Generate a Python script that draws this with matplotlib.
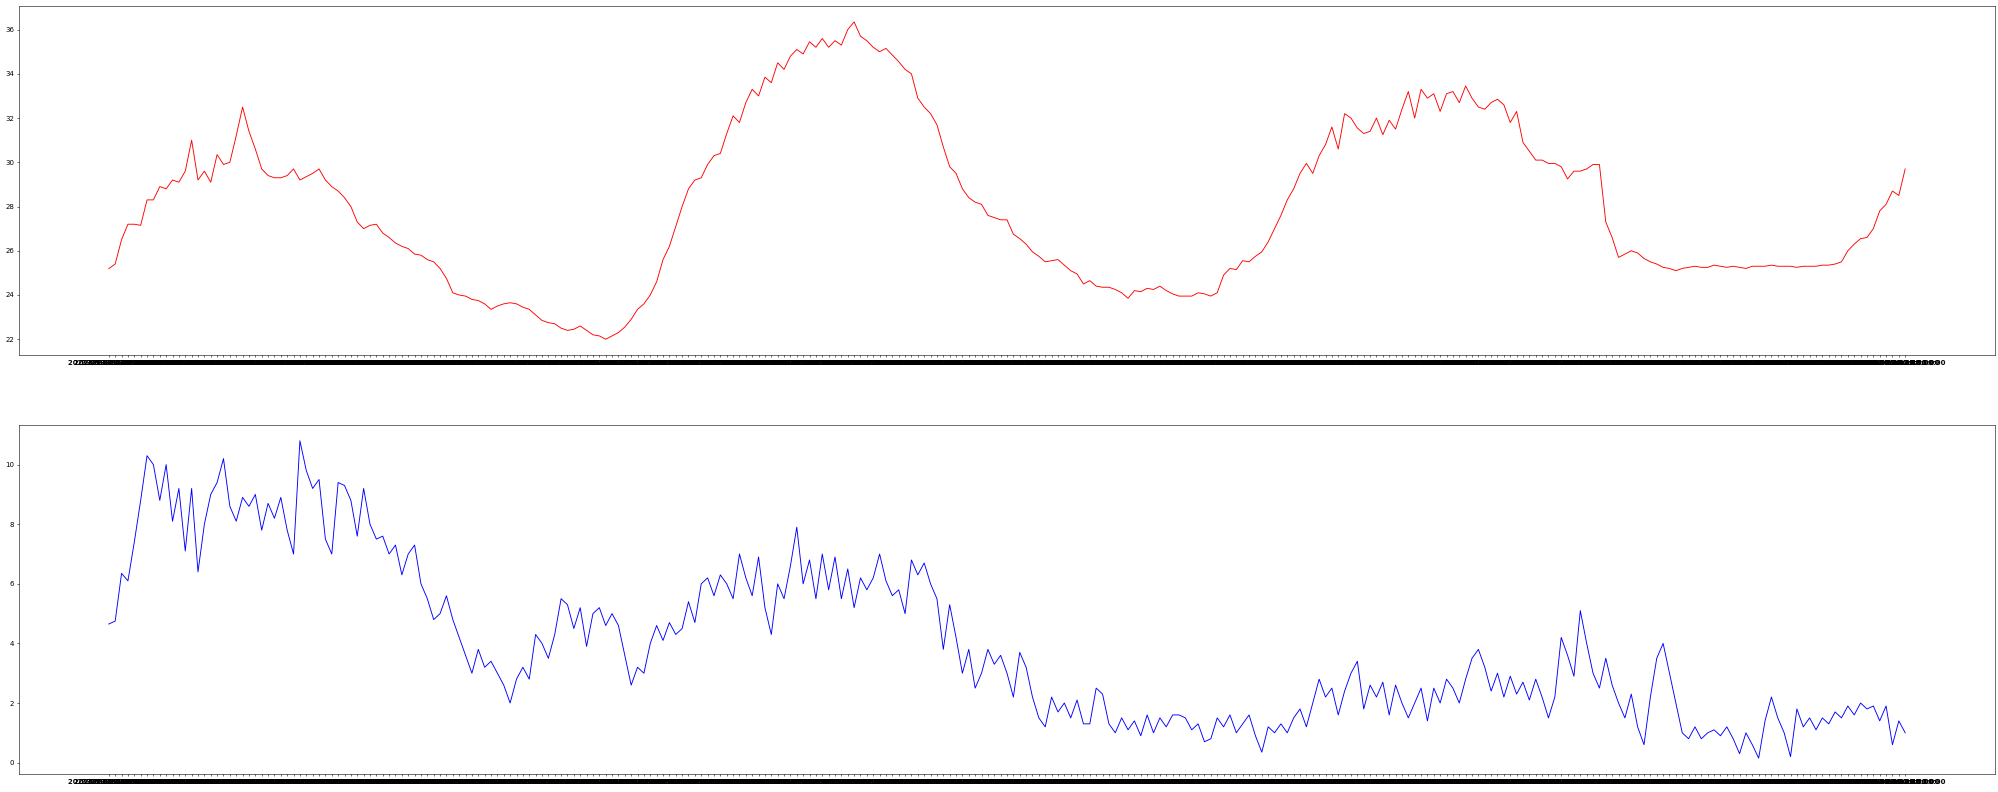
"""
Temperature and wind speed time series, two stacked panels
"""

import pandas as pd
from matplotlib import pyplot as plt

# sample timestamps (string categories on the x axis)
timestamps = pd.date_range("2021-07-01 00:00:00", periods=283, freq="10min").strftime("%Y-%m-%d %H:%M:%S").tolist()

temperature = [
    25.19, 25.4, 26.5, 27.2, 27.2, 27.15, 28.3, 28.3, 28.9, 28.8,
    29.2, 29.1, 29.6, 31.0, 29.2, 29.6, 29.1, 30.35, 29.9, 30.0,
    31.2, 32.5, 31.4, 30.6, 29.7, 29.4, 29.3, 29.3, 29.4, 29.7,
    29.2, 29.35, 29.5, 29.7, 29.2, 28.9, 28.7, 28.4, 28.0, 27.3,
    27.0, 27.15, 27.2, 26.8, 26.6, 26.35, 26.2, 26.1, 25.85, 25.8,
    25.6, 25.5, 25.2, 24.75, 24.1, 24.0, 23.95, 23.8, 23.75, 23.6,
    23.35, 23.5, 23.6, 23.65, 23.6, 23.45, 23.35, 23.1, 22.85, 22.75,
    22.7, 22.5, 22.4, 22.45, 22.6, 22.4, 22.2, 22.15, 22.0, 22.15,
    22.3, 22.55, 22.9, 23.35, 23.6, 24.0, 24.6, 25.6, 26.2, 27.1,
    28.0, 28.8, 29.2, 29.3, 29.9, 30.3, 30.4, 31.3, 32.1, 31.8,
    32.7, 33.3, 33.0, 33.85, 33.6, 34.5, 34.2, 34.8, 35.1, 34.9,
    35.45, 35.2, 35.6, 35.2, 35.5, 35.3, 36.0, 36.35, 35.7, 35.5,
    35.2, 35.0, 35.15, 34.85, 34.55, 34.2, 34.0, 32.9, 32.5, 32.2,
    31.7, 30.7, 29.8, 29.5, 28.8, 28.4, 28.2, 28.1, 27.6, 27.5,
    27.4, 27.4, 26.75, 26.55, 26.3, 25.95, 25.75, 25.5, 25.55, 25.6,
    25.35, 25.1, 24.95, 24.5, 24.65, 24.4, 24.35, 24.35, 24.25, 24.1,
    23.85, 24.2, 24.15, 24.3, 24.25, 24.4, 24.2, 24.05, 23.95, 23.95,
    23.95, 24.1, 24.05, 23.95, 24.1, 24.9, 25.2, 25.15, 25.55, 25.5,
    25.75, 25.95, 26.4, 27.0, 27.6, 28.3, 28.8, 29.5, 29.95, 29.5,
    30.3, 30.8, 31.6, 30.6, 32.2, 32.0, 31.55, 31.3, 31.4, 32.0,
    31.25, 31.9, 31.5, 32.4, 33.2, 32.0, 33.3, 32.9, 33.1, 32.3,
    33.1, 33.2, 32.7, 33.45, 32.9, 32.5, 32.4, 32.7, 32.85, 32.6,
    31.8, 32.3, 30.9, 30.5, 30.1, 30.1, 29.95, 29.95, 29.8, 29.25,
    29.6, 29.6, 29.7, 29.9, 29.9, 27.3, 26.6, 25.7, 25.85, 26.0,
    25.9, 25.65, 25.5, 25.4, 25.25, 25.2, 25.1, 25.2, 25.25, 25.3,
    25.25, 25.25, 25.35, 25.3, 25.25, 25.3, 25.25, 25.2, 25.3, 25.3,
    25.3, 25.35, 25.3, 25.3, 25.3, 25.25, 25.3, 25.3, 25.3, 25.35,
    25.35, 25.4, 25.5, 26.0, 26.3, 26.55, 26.6, 27.0, 27.8, 28.1,
    28.7, 28.5, 29.7,
]

wind_speed = [
    4.65, 4.75, 6.35, 6.1, 7.4, 8.8, 10.3, 10.0, 8.8, 10.0,
    8.1, 9.2, 7.1, 9.2, 6.4, 8.0, 9.0, 9.4, 10.2, 8.6,
    8.1, 8.9, 8.6, 9.0, 7.8, 8.7, 8.2, 8.9, 7.8, 7.0,
    10.8, 9.8, 9.2, 9.5, 7.5, 7.0, 9.4, 9.3, 8.8, 7.6,
    9.2, 8.0, 7.5, 7.6, 7.0, 7.3, 6.3, 7.0, 7.3, 6.0,
    5.5, 4.8, 5.0, 5.6, 4.8, 4.2, 3.6, 3.0, 3.8, 3.2,
    3.4, 3.0, 2.6, 2.0, 2.8, 3.2, 2.8, 4.3, 4.0, 3.5,
    4.3, 5.5, 5.3, 4.5, 5.2, 3.9, 5.0, 5.2, 4.6, 5.0,
    4.6, 3.6, 2.6, 3.2, 3.0, 4.0, 4.6, 4.1, 4.7, 4.3,
    4.5, 5.4, 4.7, 6.0, 6.2, 5.6, 6.3, 6.0, 5.5, 7.0,
    6.2, 5.6, 6.9, 5.2, 4.3, 6.0, 5.5, 6.6, 7.9, 6.0,
    6.8, 5.5, 7.0, 5.8, 6.9, 5.5, 6.5, 5.2, 6.2, 5.8,
    6.2, 7.0, 6.1, 5.6, 5.8, 5.0, 6.8, 6.3, 6.7, 6.0,
    5.5, 3.8, 5.3, 4.2, 3.0, 3.8, 2.5, 3.0, 3.8, 3.3,
    3.6, 3.0, 2.2, 3.7, 3.2, 2.2, 1.5, 1.2, 2.2, 1.7,
    2.0, 1.5, 2.1, 1.3, 1.3, 2.5, 2.3, 1.3, 1.0, 1.5,
    1.1, 1.4, 0.9, 1.6, 1.0, 1.5, 1.2, 1.6, 1.6, 1.5,
    1.1, 1.3, 0.7, 0.8, 1.5, 1.2, 1.6, 1.0, 1.3, 1.6,
    0.9, 0.35, 1.2, 1.0, 1.3, 1.0, 1.5, 1.8, 1.2, 2.0,
    2.8, 2.2, 2.5, 1.6, 2.4, 3.0, 3.4, 1.8, 2.6, 2.2,
    2.7, 1.6, 2.6, 2.0, 1.5, 2.0, 2.5, 1.4, 2.5, 2.0,
    2.8, 2.5, 2.0, 2.8, 3.5, 3.8, 3.2, 2.4, 3.0, 2.2,
    2.9, 2.3, 2.7, 2.1, 2.8, 2.2, 1.5, 2.2, 4.2, 3.6,
    2.9, 5.1, 4.0, 3.0, 2.5, 3.5, 2.6, 2.0, 1.5, 2.3,
    1.2, 0.6, 2.2, 3.5, 4.0, 3.0, 2.0, 1.0, 0.8, 1.2,
    0.8, 1.0, 1.1, 0.9, 1.2, 0.8, 0.3, 1.0, 0.6, 0.15,
    1.4, 2.2, 1.5, 1.0, 0.2, 1.8, 1.2, 1.5, 1.1, 1.5,
    1.3, 1.7, 1.5, 1.9, 1.6, 2.0, 1.8, 1.9, 1.4, 1.9,
    0.6, 1.4, 1.0,
]

fig, (ax1, ax2) = plt.subplots(2, 1, figsize=(39.98, 15.84), dpi=50)
fig.subplots_adjust(left=19 / 1999, right=1995 / 1999,
                    top=1 - 6 / 792, bottom=1 - 774 / 792, hspace=0.2)

ax1.plot(timestamps, temperature, color="red", linewidth=1.3)
ax2.plot(timestamps, wind_speed, color="blue", linewidth=1.3)

# the overlapping date labels merge into one dark band
for ax in (ax1, ax2):
    for label in ax.get_xticklabels():
        label.set_fontweight("bold")

fig.savefig("out.png", dpi=50)
